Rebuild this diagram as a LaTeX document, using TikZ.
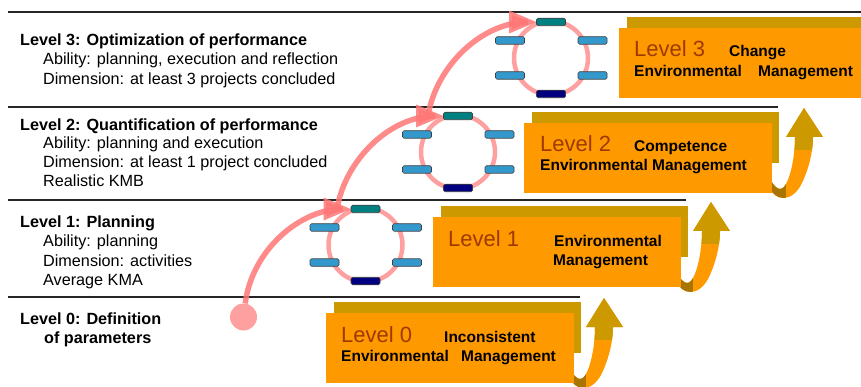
\documentclass[tikz,border=0pt]{standalone}
\usepackage{fontspec}
\setmainfont{Liberation Sans}
\usetikzlibrary{arrows}

\definecolor{boxorange}{RGB}{255,153,0}
\definecolor{boxgold}{RGB}{204,153,0}
\definecolor{foldgold}{RGB}{168,118,0}
\definecolor{lvlbrown}{RGB}{158,58,0}
\definecolor{ringpink}{RGB}{255,160,160}
\definecolor{climbpink}{RGB}{255,118,118}
\definecolor{barteal}{RGB}{0,128,128}
\definecolor{barnavy}{RGB}{0,0,128}
\definecolor{barblue}{RGB}{51,153,204}

\tikzset{
 lvhead/.style={anchor=base west, inner sep=0pt, font=\fontsize{16.2}{19}\selectfont\bfseries},
 lvsub/.style={anchor=base west, inner sep=0pt, font=\fontsize{16.2}{19}\selectfont},
 lvname/.style={anchor=base west, inner sep=0pt, text=lvlbrown, font=\fontsize{22}{26}\selectfont},
 mgmt/.style={anchor=base west, inner sep=0pt, font=\fontsize{15.5}{18}\selectfont\bfseries},
 ringbar/.style={draw=black!75, line width=0.6pt, rounded corners=1.5pt, minimum width=29pt, minimum height=7.5pt, inner sep=0pt},
 hline/.style={black!85, line width=1.6pt},
 climb/.style={climbpink, opacity=0.85, line width=5.5pt, -triangle 45},
}

\begin{document}
\begin{tikzpicture}[x=1pt, y=-1pt]
\useasboundingbox (0,0) rectangle (861,387);
\clip (0,0) rectangle (861,387);

% separating lines
\foreach \y/\xe in {12/861, 107/778, 200/686, 297/580} {
 \draw[hline] (8,\y) -- (\xe,\y);
}

% left texts
\node[lvhead] (h3) at (20,46) {Level 3: Optimization of performance};
\node[lvsub] (h3a) at (43,65) {Ability: planning, execution and reflection};
\node[lvsub] (h3b) at (43,85) {Dimension: at least 3 projects concluded};
\node[lvhead] (h2) at (20,131) {Level 2: Quantification of performance};
\node[lvsub] (h2a) at (43,149) {Ability: planning and execution};
\node[lvsub] (h2b) at (43,168) {Dimension: at least 1 project concluded};
\node[lvsub] (h2c) at (43,187) {Realistic KMB};
\node[lvhead] (h1) at (20,228) {Level 1: Planning};
\node[lvsub] (h1a) at (43,247) {Ability: planning};
\node[lvsub] (h1b) at (43,266) {Dimension: activities};
\node[lvsub] (h1c) at (43,285) {Average KMA};
\node[lvhead] (h0) at (20,324) {Level 0: Definition};
\node[lvhead] (h0a) at (44,343) {of parameters};

% gold arrows from box to box
\foreach \cx/\cy in {573/383, 680/287, 773/193} {
 \begin{scope}[shift={(\cx,\cy)}]
  \path[clip] (-4,-6) .. controls (2,8) and (18,10) .. (28,-8)
   .. controls (35,-22) and (40,-40) .. (40,-56) -- (50,-56) -- (31,-85)
   -- (13,-56) -- (22,-56) .. controls (22,-38) and (18,-18) .. (13,-9)
   .. controls (8,0) and (2,-4) .. (-4,-16) -- cycle;
  \fill[boxorange] (-10,-100) rectangle (60,12);
  \fill[boxgold] (-10,-100) rectangle (60,-43);
  \fill[foldgold] (-10,-20) rectangle (13,12);
 \end{scope}
}

% boxes
\foreach \bx/\by in {326/313, 433/217, 524/123, 619/28} {
 \fill[boxgold] (\bx+8,\by-11) rectangle (\bx+255,\by+40);
 \fill[boxorange] (\bx,\by) rectangle (\bx+248,\by+70);
}

\node[lvname] (lv3) at (634,57) {Level 3};
\node[mgmt] (lv3a) at (729,57) {Change};
\node[mgmt] (lv3b) at (634,77) {Environmental\hspace{12pt} Management};
\node[lvname] (lv2) at (540,152) {Level 2};
\node[mgmt] (lv2a) at (634,152) {Competence};
\node[mgmt] (lv2b) at (540,171) {Environmental Management};
\node[lvname] (lv1) at (448,247) {Level 1};
\node[mgmt] (lv1a) at (554,247) {Environmental};
\node[mgmt] (lv1b) at (553,265) {Management};
\node[lvname] (lv0) at (341,342) {Level 0};
\node[mgmt] (lv0a) at (444,342) {Inconsistent};
\node[mgmt] (lv0b) at (341,361) {Environmental\hspace{8pt} Management};

% rings with bars
\foreach \n/\cx/\cy in {1/365.5/245, 2/458/152, 3/551/58} {
 \draw[ringpink, line width=4.5pt] (\cx,\cy) circle (37);
 \node[ringbar, fill=barteal] (top\n) at (\cx,\cy-36) {};
 \node[ringbar, fill=barnavy] (bot\n) at (\cx,\cy+36) {};
 \node[ringbar, fill=barblue] (lt\n) at (\cx-41,\cy-17.5) {};
 \node[ringbar, fill=barblue] (lb\n) at (\cx-41,\cy+17.5) {};
 \node[ringbar, fill=barblue] (rt\n) at (\cx+41.5,\cy-17.5) {};
 \node[ringbar, fill=barblue] (rb\n) at (\cx+41.5,\cy+17.5) {};
}

% climbing arrows
\node[circle, fill=ringpink, minimum size=27pt, inner sep=0pt] (dot0) at (243.5,317) {};
\coordinate (s2) at (337,209);
\coordinate (s3) at (428,116);
\draw[climb] (dot0) .. controls (252,250) and (300,209) .. (top1.west);
\draw[climb] (s2) .. controls (345,160) and (390,116) .. (top2.west);
\draw[climb] (s3) .. controls (436,66) and (482,22) .. (top3.west);
\end{tikzpicture}
\end{document}
